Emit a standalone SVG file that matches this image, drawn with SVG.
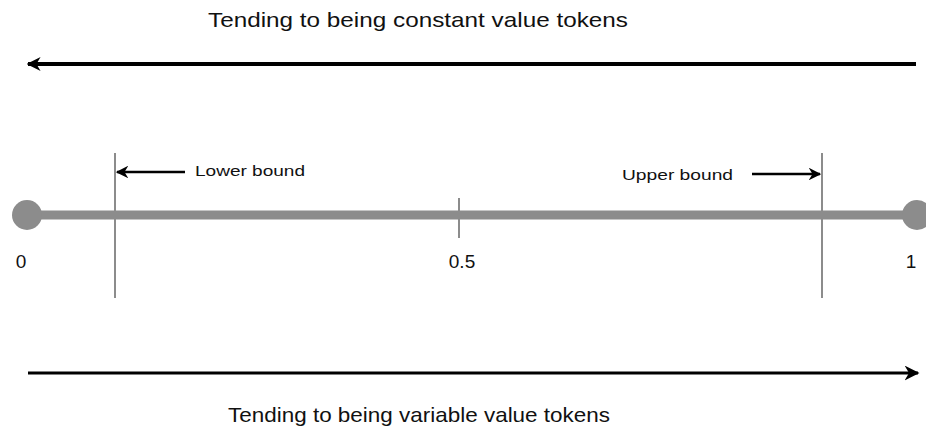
<svg xmlns="http://www.w3.org/2000/svg" width="926" height="432" viewBox="0 0 926 432">
  <style>
    .label { font-family: "Liberation Sans", Arial, sans-serif; fill: #111; }
    .axis { stroke: #8c8c8c; fill: none; }
    .bound { stroke: #8c8c8c; stroke-width: 2; }
    .arrow { stroke: #000; fill: none; }
  </style>
  <defs>
    <marker id="head" viewBox="0 0 10 10" refX="9" refY="5" markerWidth="3.5" markerHeight="3.5" orient="auto-start-reverse" markerUnits="strokeWidth">
      <path d="M0,0 L10,5 L0,10 L3,5 Z" fill="#000"/>
    </marker>
    <marker id="headSmall" viewBox="0 0 10 10" refX="9" refY="5" markerWidth="5" markerHeight="5" orient="auto-start-reverse" markerUnits="strokeWidth">
      <path d="M0,0 L10,5 L0,10 L3,5 Z" fill="#000"/>
    </marker>
  </defs>

  <!-- direction captions -->
  <g id="caption-constant">
    <text class="label" x="418" y="27" font-size="21" text-anchor="middle" textLength="420" lengthAdjust="spacingAndGlyphs">Tending to being constant value tokens</text>
  </g>
  <g id="caption-variable">
    <text class="label" x="419" y="422" font-size="21" text-anchor="middle" textLength="382" lengthAdjust="spacingAndGlyphs">Tending to being variable value tokens</text>
  </g>

  <!-- number line from 0 to 1 -->
  <g id="axis">
    <line class="axis" x1="27" y1="215" x2="915" y2="215" stroke-width="9"/>
    <line class="axis" x1="459" y1="198" x2="459" y2="238" stroke-width="2"/>
  </g>
  <g id="end-zero">
    <circle cx="27" cy="215" r="15" fill="#8c8c8c"/>
    <text class="label" x="21" y="268" font-size="19" text-anchor="middle">0</text>
  </g>
  <g id="mid-half">
    <text class="label" x="462" y="268" font-size="19" text-anchor="middle">0.5</text>
  </g>
  <g id="end-one">
    <circle cx="917" cy="215" r="15" fill="#8c8c8c"/>
    <text class="label" x="911" y="268" font-size="19" text-anchor="middle">1</text>
  </g>

  <!-- bound markers -->
  <g id="lower-bound">
    <line class="bound" x1="115" y1="153" x2="115" y2="298"/>
    <text class="label" x="195" y="176" font-size="15" textLength="110" lengthAdjust="spacingAndGlyphs">Lower bound</text>
  </g>
  <g id="upper-bound">
    <line class="bound" x1="822" y1="153" x2="822" y2="298"/>
    <text class="label" x="622" y="180" font-size="15" textLength="111" lengthAdjust="spacingAndGlyphs">Upper bound</text>
  </g>

  <!-- connectors -->
  <g id="connectors">
    <line class="arrow" x1="916" y1="64" x2="28" y2="64" stroke-width="4" marker-end="url(#head)"/>
    <line class="arrow" x1="28" y1="373" x2="918" y2="373" stroke-width="3" marker-end="url(#headSmall)"/>
    <line class="arrow" x1="185" y1="172" x2="117" y2="172" stroke-width="2.5" marker-end="url(#headSmall)"/>
    <line class="arrow" x1="752" y1="174" x2="820" y2="174" stroke-width="2.5" marker-end="url(#headSmall)"/>
  </g>
</svg>
